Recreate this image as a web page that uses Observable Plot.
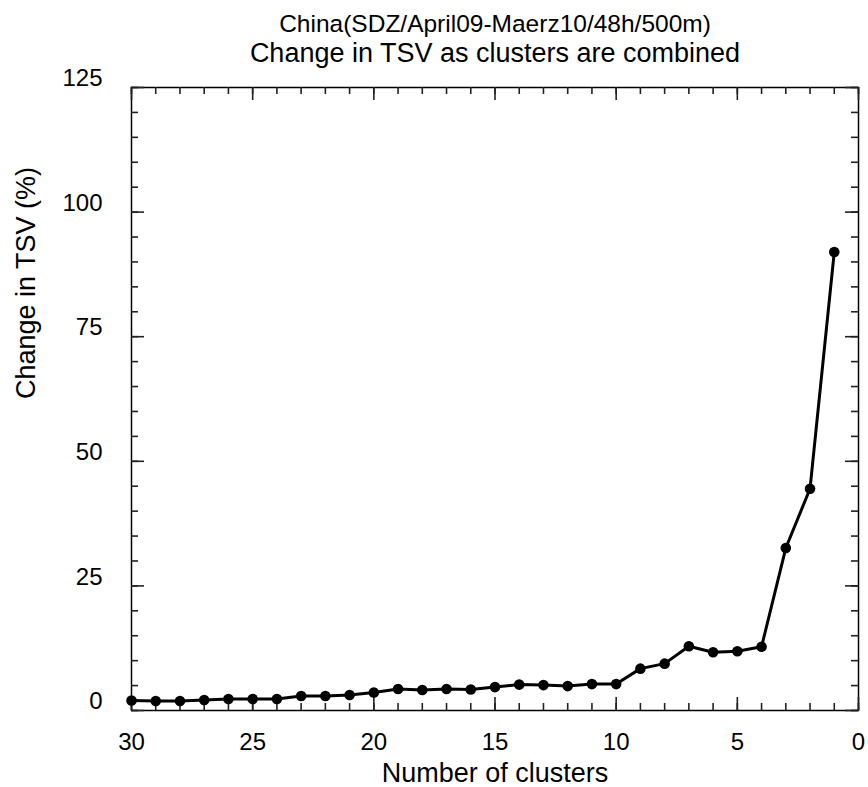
<!DOCTYPE html>
<html><head><meta charset="utf-8">
<script src="https://cdn.jsdelivr.net/npm/d3@7"></script>
<script src="https://cdn.jsdelivr.net/npm/@observablehq/plot@0.6"></script>
<style>body{margin:0;background:#fff}</style>
</head><body><div id="chart"></div>
<script>
const clusters = [30,29,28,27,26,25,24,23,22,21,20,19,18,17,16,15,14,13,12,11,10,9,8,7,6,5,4,3,2,1];
const tsvChange = [2.0,1.9,1.9,2.1,2.3,2.3,2.3,2.9,2.9,3.1,3.6,4.3,4.1,4.3,4.2,4.7,5.2,5.1,4.9,5.3,5.3,8.4,9.4,12.9,11.7,11.9,12.8,32.6,44.5,92.0];
const xMajorTicks = [30,25,20,15,10,5,0];
const xMinorTicks = [30,29,28,27,26,25,24,23,22,21,20,19,18,17,16,15,14,13,12,11,10,9,8,7,6,5,4,3,2,1,0];
const yMajorTicks = [0,25,50,75,100,125];
const yMinorTicks = [0,5,10,15,20,25,30,35,40,45,50,55,60,65,70,75,80,85,90,95,100,105,110,115,120,125];
const titleLine1 = "China(SDZ/April09-Maerz10/48h/500m)";
const titleLine2 = "Change in TSV as clusters are combined";
const xLabel = "Number of clusters";
const yLabel = "Change in TSV (%)";

const data = clusters.map((c, i) => ({clusters: c, change: tsvChange[i]}));
const font = "'Liberation Sans', Arial, Helvetica, sans-serif";

const W = 868, H = 787, mL = 131, mR = 10, mT = 87, mB = 77;
const plotW = W - mL - mR, plotH = H - mT - mB;
const minorLen = 7, majorLen = 13;
const tickStyle = {stroke: "#222", strokeWidth: 1.6};

const chart = Plot.plot({
  width: W, height: H,
  marginLeft: mL, marginRight: mR, marginTop: mT, marginBottom: mB,
  style: {fontFamily: font, background: "white", color: "black"},
  x: {domain: [30, 0], axis: null},
  y: {domain: [0, 125], axis: null},
  marks: [
    Plot.frame({stroke: "black", strokeWidth: 1.5}),
    // inward ticks on all four sides
    Plot.ruleX(xMinorTicks, {x: d => d, insetTop: plotH - minorLen, ...tickStyle}),
    Plot.ruleX(xMajorTicks, {x: d => d, insetTop: plotH - majorLen, ...tickStyle}),
    Plot.ruleX(xMinorTicks, {x: d => d, insetBottom: plotH - minorLen, ...tickStyle}),
    Plot.ruleX(xMajorTicks, {x: d => d, insetBottom: plotH - majorLen, ...tickStyle}),
    Plot.ruleY(yMinorTicks, {y: d => d, insetRight: plotW - minorLen, ...tickStyle}),
    Plot.ruleY(yMajorTicks, {y: d => d, insetRight: plotW - majorLen, ...tickStyle}),
    Plot.ruleY(yMinorTicks, {y: d => d, insetLeft: plotW - minorLen, ...tickStyle}),
    Plot.ruleY(yMajorTicks, {y: d => d, insetLeft: plotW - majorLen, ...tickStyle}),
    // tick labels
    Plot.axisX(xMajorTicks, {anchor: "bottom", tickSize: 0, tickPadding: 22, fontSize: 24, label: null}),
    Plot.axisY(yMajorTicks, {anchor: "left", tickSize: 0, tickPadding: 29, dy: -9, fontSize: 24, label: null}),
    Plot.line(data, {x: "clusters", y: "change", stroke: "black", strokeWidth: 3}),
    Plot.dot(data, {x: "clusters", y: "change", r: 5.3, fill: "black"}),
    // titles and axis labels
    Plot.text([titleLine1], {text: d => d, frameAnchor: "top", dy: -56, lineAnchor: "bottom", fontSize: 24.5}),
    Plot.text([titleLine2], {text: d => d, frameAnchor: "top", dy: -25.5, lineAnchor: "bottom", fontSize: 27}),
    Plot.text([xLabel], {text: d => d, frameAnchor: "bottom", dy: 71, lineAnchor: "bottom", fontSize: 27}),
    Plot.text([yLabel], {text: d => d, frameAnchor: "left", dx: -105, rotate: -90, lineAnchor: "middle", fontSize: 27})
  ]
});
document.getElementById("chart").appendChild(chart);
</script>
</body></html>
